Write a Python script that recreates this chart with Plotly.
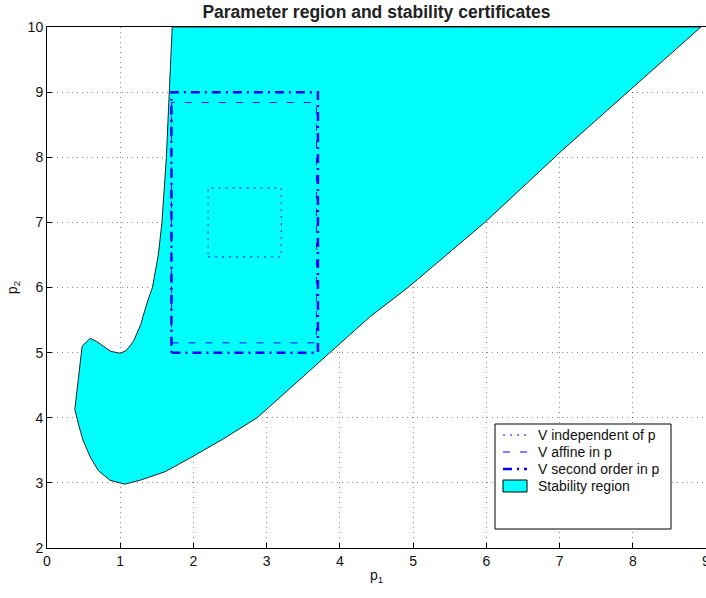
import plotly.graph_objects as go

# Stability region boundary (p1, p2), traced around the region
region_p1 = [1.71, 1.67, 1.63, 1.57, 1.52, 1.44, 1.38, 1.31, 1.28, 1.18, 1.08, 1.00,
             0.87, 0.68, 0.59, 0.48, 0.38, 0.43, 0.49, 0.59, 0.70, 0.86, 1.06, 1.27,
             1.61, 1.95, 2.40, 2.87, 3.37, 3.86, 4.41, 4.93, 5.98, 7.04, 8.93]
region_p2 = [10.0, 9.0, 8.0, 7.0, 6.5, 6.0, 5.81, 5.55, 5.43, 5.17, 5.03, 4.99,
             5.02, 5.17, 5.22, 5.10, 4.13, 3.90, 3.66, 3.40, 3.19, 3.04, 2.98, 3.04,
             3.17, 3.38, 3.67, 4.00, 4.50, 5.00, 5.55, 6.00, 7.00, 8.11, 10.0]

# Certificate boxes: [p1_min, p1_max, p2_min, p2_max]
box_independent = [2.2, 3.2, 6.47, 7.53]
box_affine = [1.7, 3.68, 5.15, 8.84]
box_second = [1.7, 3.7, 5.0, 9.0]

series_names = ["V independent of p", "V affine in p", "V second order in p", "Stability region"]

x_ticks = [0, 1, 2, 3, 4, 5, 6, 7, 8, 9]
y_ticks = [2, 3, 4, 5, 6, 7, 8, 9, 10]

BLUE = "#0000FF"
styles = [
    dict(color=BLUE, width=1, dash="2px,5px"),
    dict(color=BLUE, width=1, dash="7px,10px"),
    dict(color=BLUE, width=2.5, dash="9px,5px,2px,5px"),
]


def rect(b):
    x0, x1, y0, y1 = b
    return [x0, x1, x1, x0, x0], [y0, y0, y1, y1, y0]


fig = go.Figure()

fig.add_trace(go.Scatter(
    x=region_p1 + [region_p1[0]], y=region_p2 + [region_p2[0]],
    mode="lines", fill="toself", fillcolor="#00FFFF",
    line=dict(color="#222222", width=1),
    name=series_names[3], showlegend=False))

for b, st, nm in zip([box_independent, box_affine, box_second], styles, series_names[:3]):
    bx, by = rect(b)
    fig.add_trace(go.Scatter(x=bx, y=by, mode="lines", line=st, name=nm, showlegend=False))

L, R, T, B = 47, 0, 27, 50
W, H = 706, 598
pw, ph = W - L - R, H - T - B


def px_x(p):
    return (p - L) / pw


def px_y(p):
    return (H - B - p) / ph


# legend box drawn in the MATLAB style (with empty space at the bottom)
fig.add_shape(type="rect", xref="paper", yref="paper",
              x0=px_x(495), x1=px_x(671), y0=px_y(529), y1=px_y(424),
              line=dict(color="black", width=1), fillcolor="white", layer="above")

row_y = [435, 452, 469, 486]
sym_x0, sym_x1, text_x = 503, 527, 536
for i in range(3):
    fig.add_shape(type="line", xref="paper", yref="paper",
                  x0=px_x(sym_x0), x1=px_x(sym_x1), y0=px_y(row_y[i]), y1=px_y(row_y[i]),
                  line=styles[i], layer="above")
fig.add_shape(type="rect", xref="paper", yref="paper",
              x0=px_x(sym_x0), x1=px_x(sym_x1), y0=px_y(row_y[3] + 6), y1=px_y(row_y[3] - 6),
              line=dict(color="black", width=1), fillcolor="#00FFFF", layer="above")
for i, nm in enumerate(series_names):
    fig.add_annotation(xref="paper", yref="paper", x=px_x(text_x), y=px_y(row_y[i]),
                       text=nm, showarrow=False, xanchor="left", yanchor="middle",
                       font=dict(size=14, color="#111111"))

axis_common = dict(
    showline=True, linecolor="black", linewidth=1, mirror=True,
    ticks="inside", ticklen=5, tickcolor="black", automargin=False,
    ticklabeloverflow="allow",
    showgrid=True, gridcolor="rgba(0,0,0,0.45)", griddash="1px,4px", gridwidth=1,
    zeroline=False, tickfont=dict(size=14, color="#111111"),
)

fig.update_layout(
    width=W, height=H,
    margin=dict(l=L, r=R, t=T, b=B),
    paper_bgcolor="white", plot_bgcolor="white",
    font=dict(family="Liberation Sans, Arial, sans-serif", color="#111111", size=14),
    title=dict(text="<b>Parameter region and stability certificates</b>",
               x=(L + pw / 2) / W, xanchor="center", y=1 - 12 / H, yanchor="middle",
               font=dict(size=17.5, color="#222222")),
    xaxis=dict(range=[0, 9], tickvals=x_ticks, ticktext=[str(v) for v in x_ticks],
               title=dict(text="p<sub>1</sub>", standoff=2, font=dict(size=14)),
               **axis_common),
    yaxis=dict(range=[2, 10], tickvals=y_ticks, ticktext=[str(v) for v in y_ticks],
               title=dict(text="p<sub>2</sub>", standoff=6, font=dict(size=14)),
               **axis_common),
    showlegend=False,
)

fig.write_html("out.html", config={"displayModeBar": False},
               post_script="document.body.style.margin='0px';")
